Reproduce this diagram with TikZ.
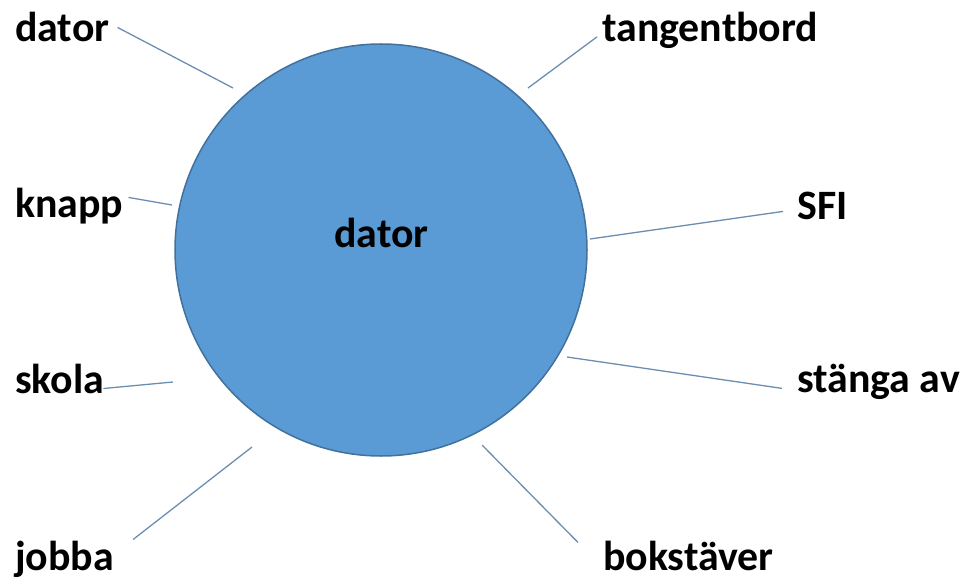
\documentclass[tikz,border=0pt]{standalone}
\usepackage{fontspec}
\setmainfont{Carlito}
\definecolor{hubfill}{RGB}{91,155,213}
\definecolor{hubline}{RGB}{65,113,156}
\definecolor{spokeline}{RGB}{108,142,176}
\tikzset{
  word/.style={font=\bfseries\fontsize{42}{48}\selectfont, inner sep=0pt, anchor=base west},
  spoke/.style={draw=spokeline, line width=1.3bp},
}
\begin{document}
\begin{tikzpicture}[x=1bp,y=-1bp]
  \useasboundingbox (0,0) rectangle (974,584);
  %% centre
  \node[circle, fill=hubfill, draw=hubline, line width=1.5bp, minimum size=412bp, inner sep=0pt] (hub) at (381,250) {};
  \node[word, anchor=base] (hubword) at (381.5,248) {dator};
  %% words round it
  \foreach \nm/\x/\y/\txt in {lA/15/42/dator, lB/602/42/tangentbord, lC/15/218/knapp, lD/797/220/SFI,
                              lE/15/393/skola, lF/797/392/stänga av, lG/15/570/jobba, lH/603/570/bokstäver}
    \node[word] (\nm) at (\x,\y) {\txt};
  %% ends near the circle
  \foreach \nm/\x/\y in {cA/233/88, cB/528/88, cC/172/205, cD/590/239,
                         cE/173/382, cF/567/357, cG/252/447, cH/482/445}
    \coordinate (\nm) at (\x,\y);
  %% spokes
  \draw[spoke] ([shift={(8,0)}]lA.east) -- (cA);
  \draw[spoke] ([shift={(-5,6)}]lB.west) -- (cB);
  \draw[spoke] ([shift={(5,9)}]lC.north east) -- (cC);
  \draw[spoke] ([shift={(-14,5)}]lD.west) -- (cD);
  \draw[spoke] ([shift={(-1,-5)}]lE.south east) -- (cE);
  \draw[spoke] ([shift={(-15,7)}]lF.west) -- (cF);
  \draw[spoke] ([shift={(19,-1)}]lG.north east) -- (cG);
  \draw[spoke] ([shift={(-25,2)}]lH.north west) -- (cH);
\end{tikzpicture}
\end{document}
